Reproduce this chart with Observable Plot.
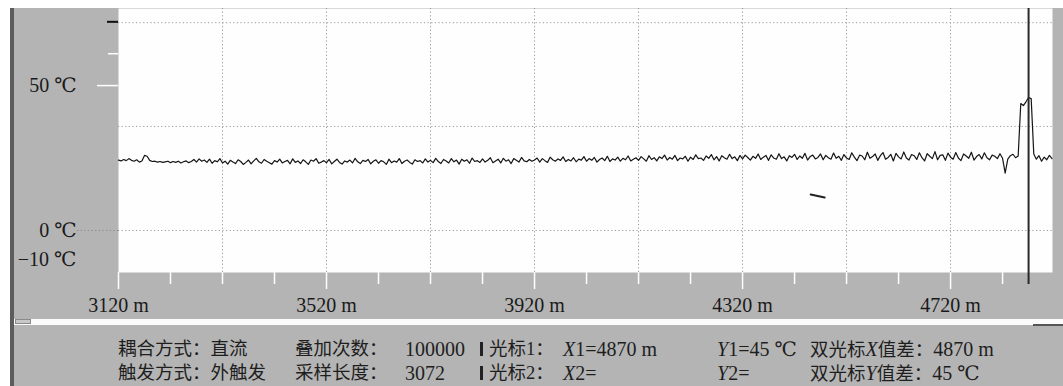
<!DOCTYPE html>
<html>
<head>
<meta charset="utf-8">
<script src="https://cdn.jsdelivr.net/npm/d3@7"></script>
<script src="https://cdn.jsdelivr.net/npm/@observablehq/plot@0.6"></script>
<style>
  html, body { margin: 0; padding: 0; background: #fff; }
  #wrap { position: relative; width: 1063px; height: 386px; overflow: hidden; background: #fff; }
  #gray { position: absolute; left: 10px; top: 8px; right: 0; bottom: 0; background: #b4b4b4; border-left: 4px solid #5c5c5c; }
  #scroll { position: absolute; left: 14px; top: 319px; width: 1049px; height: 6px; background: #fbfbfb; }
  #thumb { position: absolute; left: 15px; top: 319px; width: 16px; height: 5px; background: #c8c8c8; border: 1px solid #8a8a8a; box-sizing: border-box; }
  #rend { position: absolute; left: 1033px; top: 324px; width: 30px; height: 2px; background: #555; }
  .info { position: absolute; font-family: "Liberation Serif", "DejaVu Serif", "Noto Sans CJK SC", serif; font-size: 18.5px; color: #1e1e1e; white-space: nowrap; line-height: 24px; }
  .n { font-size: 20px; }
  .bar { position: absolute; width: 3px; height: 14px; background: #222; }
</style>
</head>
<body>
<div id="wrap">
  <div id="gray"></div>
  <div id="scroll"></div>
  <div id="thumb"></div>
  <div id="rend"></div>
  <div id="chart"></div>

  <div class="info" style="left:118px; top:337px;">耦合方式：直流</div>
  <div class="info" style="left:295px; top:337px;">叠加次数：</div>
  <div class="info n" style="left:405px; top:337px;">100000</div>
  <div class="bar" style="left:480px; top:342px;"></div>
  <div class="info" style="left:489px; top:337px;">光标1：</div>
  <div class="info n" style="left:563px; top:337px;"><i>X</i>1=4870 m</div>
  <div class="info n" style="left:717px; top:337px;"><i>Y</i>1=45 ℃</div>
  <div class="info" style="left:810px; top:337px;">双光标<i class="n">X</i>值差：<span class="n">4870 m</span></div>

  <div class="info" style="left:118px; top:361px;">触发方式：外触发</div>
  <div class="info" style="left:295px; top:361px;">采样长度：</div>
  <div class="info n" style="left:405px; top:361px;">3072</div>
  <div class="bar" style="left:480px; top:366px;"></div>
  <div class="info" style="left:489px; top:361px;">光标2：</div>
  <div class="info n" style="left:563px; top:361px;"><i>X</i>2=</div>
  <div class="info n" style="left:717px; top:361px;"><i>Y</i>2=</div>
  <div class="info" style="left:810px; top:361px;">双光标<i class="n">Y</i>值差：<span class="n">45 ℃</span></div>
</div>
<script>
// ---- data (distance in m, temperature in ℃) ----
const xStart = 3120;   // first sample position (m)
const xStep = 5;       // sampling interval (m)
const temps = [
  24.3, 24.0, 24.5, 24.1, 24.8, 24.2, 23.9, 24.4, 23.6, 24.0, 25.9, 25.6, 24.2, 23.8, 23.9, 23.6, 23.8, 23.5, 23.7, 23.9,
  23.4, 23.8, 23.5, 23.9, 23.3, 23.7, 24.0, 23.4, 23.8, 24.5, 23.6, 24.7, 23.9, 24.3, 23.5, 24.6, 23.2, 24.1, 23.7, 24.8,
  23.3, 23.9, 22.9, 24.2, 23.6, 23.1, 24.4, 23.8, 22.8, 23.5, 24.3, 23.0, 24.0, 24.9, 23.7, 23.2, 24.5, 23.9, 23.4, 22.9,
  24.1, 23.6, 24.6, 23.3, 23.8, 24.2, 23.0, 24.7, 23.5, 24.0, 23.1, 24.4, 23.7, 22.8, 24.3, 23.9, 24.8, 23.2, 23.6, 24.1,
  23.4, 24.5, 23.0, 23.8, 24.6, 23.5, 22.9, 24.0, 23.6, 24.3, 23.3, 24.9, 23.7, 23.1, 24.2, 23.8, 24.5, 23.0, 23.9, 24.4,
  23.2, 24.1, 23.7, 22.8, 24.6, 23.4, 24.0, 23.6, 24.8, 23.1, 23.9, 24.3, 23.5, 22.9, 24.4, 23.8, 24.1, 23.3, 24.7, 23.6,
  24.2, 23.4, 24.9, 23.8, 23.1, 24.5, 24.0, 23.3, 24.8, 23.7, 24.3, 22.9, 24.6, 23.9, 24.4, 23.2, 25.0, 23.8, 24.1, 23.5,
  24.7, 23.6, 24.2, 25.1, 23.4, 24.0, 24.6, 23.3, 24.9, 23.9, 24.4, 23.1, 24.8, 24.2, 23.6, 25.2, 24.0, 23.7, 24.5, 23.9,
  24.3, 25.0, 23.6, 24.8, 24.1, 23.5, 25.3, 24.4, 23.9, 24.7, 24.2, 25.4, 23.8, 24.5, 24.0, 25.1, 23.7, 24.6, 24.3, 25.5,
  23.9, 24.8, 24.2, 25.2, 23.6, 24.5, 25.0, 24.1, 25.6, 23.8, 24.7, 24.3, 25.3, 23.9, 24.9, 24.4, 25.7, 24.0, 24.6, 25.1,
  24.2, 25.5, 24.7, 23.9, 25.8, 24.5, 25.1, 24.0, 25.4, 24.8, 26.0, 24.3, 25.2, 24.6, 25.9, 24.1, 25.0, 24.7, 25.6, 23.9,
  25.3, 24.5, 26.1, 24.8, 25.0, 24.2, 25.7, 24.9, 26.2, 24.4, 25.5, 24.0, 25.8, 25.1, 24.6, 26.3, 24.8, 25.4, 24.1, 25.9,
  24.7, 26.0, 25.2, 24.3, 25.6, 24.9, 26.4, 24.5, 25.3, 25.9, 24.2, 26.1, 25.0, 24.6, 26.5, 24.8, 25.4, 24.0, 25.8, 25.2,
  26.3, 24.5, 25.7, 24.9, 26.6, 24.3, 25.5, 26.0, 24.7, 25.2, 26.4, 24.4, 25.9, 25.1, 24.6, 26.7, 24.9, 25.6, 24.2, 26.2,
  25.0, 24.5, 26.8, 25.3, 24.1, 26.0, 25.7, 24.4, 27.0, 24.9, 25.5, 26.4, 24.2, 25.8, 26.9, 24.6, 25.2, 26.3, 24.0, 26.6,
  25.4, 24.7, 27.1, 25.0, 24.3, 26.2, 25.8, 24.5, 26.8, 25.1, 24.0, 26.5, 25.6, 24.8, 27.2, 24.4, 25.9, 26.1, 24.2, 26.7,
  25.3, 24.6, 26.9, 25.0, 24.1, 26.4, 25.7, 24.9, 27.0, 24.3, 25.5, 26.2, 24.7, 26.8, 25.1, 24.4, 26.0, 25.6, 24.8, 26.5,
  24.9, 19.8, 24.6, 25.8, 26.3, 25.1, 25.7, 43.8, 43.1, 44.4, 45.9, 45.5, 26.4, 24.6, 25.8, 23.9, 25.3, 24.4, 25.9, 24.8
];
const strayX = [4451, 4478];
const strayY = [12.4, 11.4];
const cursorX = 4870;

const xMajor = [3120, 3520, 3920, 4320, 4720];
const xMinor = [3220, 3320, 3420, 3620, 3720, 3820, 4020, 4120, 4220, 4420, 4520, 4620, 4820];
const xGrid = [3320, 3520, 3720, 3920, 4120, 4320, 4520, 4720];
const yGrid = [0, 35.9, 71.7];
const yLabels = [50, 0, -10];

const rows = temps.map((t, i) => ({d: xStart + i * xStep, t}));
const stray = strayX.map((d, i) => ({d, t: strayY[i]}));
const blank = () => "";
const dots = "1.2,2.4";

const chart = Plot.plot({
  width: 1063,
  height: 320,
  marginTop: 8,
  marginBottom: 48,
  marginLeft: 118,
  marginRight: 11,
  x: {domain: [3120, 4916], label: null},
  y: {domain: [-14.5, 76.6], label: null},
  style: {position: "absolute", left: "0px", top: "0px", background: "transparent", overflow: "visible",
          fontFamily: "'Liberation Serif', 'DejaVu Serif', 'Noto Sans CJK SC', serif", fontSize: "20px", color: "#1a1a1a"},
  marks: [
    Plot.frame({fill: "#fefefe", stroke: null}),
    Plot.gridX(xGrid, {stroke: "#9a9a9a", strokeOpacity: 1, strokeDasharray: dots}),
    Plot.gridY(yGrid, {stroke: "#9a9a9a", strokeOpacity: 1, strokeDasharray: dots}),
    Plot.axisX(xMinor, {tickSize: 12, stroke: "white", strokeWidth: 1.5, tickFormat: blank}),
    Plot.axisX(xMajor, {tickSize: 17, tickPadding: 8, stroke: "white", strokeWidth: 1.5, fill: "#1a1a1a",
                        tickFormat: d => `${d} m`}),
    Plot.axisY(yLabels, {tickSize: 0, tickPadding: 42, fill: "#1a1a1a",
                         tickFormat: d => `${d < 0 ? "−" : ""}${Math.abs(d)} ℃`}),
    Plot.axisY([50], {tickSize: 21, stroke: "white", strokeWidth: 1.5, tickFormat: blank}),
    Plot.axisY([0], {tickSize: 42, stroke: "#8a8a8a", strokeDasharray: dots, tickFormat: blank}),
    Plot.axisY([72], {tickSize: 11, stroke: "#111", strokeWidth: 2, tickFormat: blank}),
    Plot.axisY([61], {tickSize: 10, stroke: "white", strokeWidth: 1.5, tickFormat: blank}),
    Plot.line(rows, {x: "d", y: "t", stroke: "#151515", strokeWidth: 1.2}),
    Plot.line(stray, {x: "d", y: "t", stroke: "#222", strokeWidth: 2}),
    Plot.ruleX([cursorX], {stroke: "#2a2a2a", strokeWidth: 2, insetBottom: -12})
  ]
});
document.getElementById("chart").appendChild(chart);
</script>
</body>
</html>
